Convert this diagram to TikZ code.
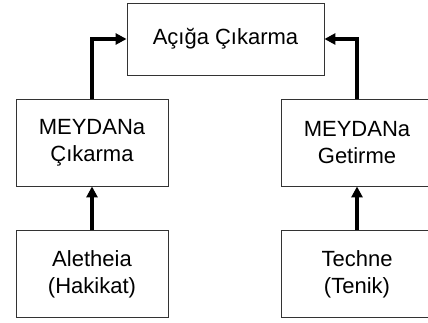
\documentclass[tikz,border=0pt]{standalone}
\usepackage{fontspec}
\setmainfont{Liberation Sans}
\usetikzlibrary{arrows.meta,positioning}

\begin{document}
\begin{tikzpicture}[x=1pt,y=1pt,>={Triangle[length=11pt,width=11pt]},
  box/.style={draw=black!80,line width=0.9pt,align=center,inner sep=0pt,
    font=\fontsize{22}{27}\selectfont},
  arr/.style={->,line width=3.4pt}]
\useasboundingbox (0,0) rectangle (428,322);
\node[box,minimum width=197pt,minimum height=72pt] (reveal) at (225.5,283) {Açığa Çıkarma};
\node[box,minimum width=152pt,minimum height=87pt] (bring) at (92,179.5) {MEYDANa\\Çıkarma};
\node[box,minimum width=152pt,minimum height=87pt] (fetch) at (357,179.5) {MEYDANa\\Getirme};
\node[box,minimum width=152pt,minimum height=87pt,below=44pt of bring] (aletheia) {Aletheia\\(Hakikat)};
\node[box,minimum width=152pt,minimum height=87pt,below=44pt of fetch] (techne) {Techne\\(Tenik)};
\draw[arr] (bring.north) |- (reveal.west);
\draw[arr] (fetch.north) |- (reveal.east);
\draw[arr] (aletheia) -- (bring);
\draw[arr] (techne) -- (fetch);
\end{tikzpicture}
\end{document}
